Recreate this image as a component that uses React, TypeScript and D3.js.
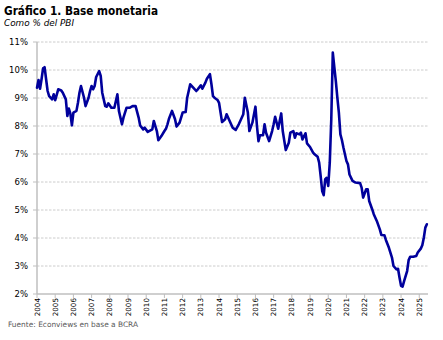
import React from "react";
import * as d3 from "d3";

// Month offsets from Jan-2004 and value (% of GDP)
const monthOffsets: number[] = [
  0, 1, 2, 3, 4, 5, 6, 7, 8, 10, 11, 12, 14, 16, 17, 19, 20, 21, 22, 23, 24, 26, 27, 28, 29, 31, 32, 34, 35, 36, 37, 38, 39, 41, 42, 43, 45, 46, 47, 49, 51, 53, 54, 56, 57, 59, 61, 63, 65, 67, 68,
  70, 71, 73, 76, 77, 79, 80, 82, 84, 85, 86, 87, 89, 91, 92, 94, 96, 98, 99, 101, 103, 105, 106, 108, 109, 111, 112, 114, 115, 116, 117, 119, 120, 122, 124, 125, 127, 129, 131, 133, 134,
  136, 137, 139, 140, 142, 144, 145, 146, 147, 149, 150, 151, 153, 155, 156, 157, 159, 160, 161, 162, 164, 166, 167, 169, 170, 171, 173, 174, 175, 177, 178, 180, 182, 183, 185, 186, 187, 188, 189, 190, 191, 192, 193, 194, 195,
  196, 197, 198, 199, 200, 201, 202, 204, 205, 206, 208, 210, 213, 214, 215, 217, 218, 219, 221, 222, 224, 226, 227, 229, 230, 232, 234, 235, 237, 238, 239, 240, 241, 242, 244, 245, 246, 248, 250, 251, 253, 254, 255, 256, 257,
];
const baseValues: number[] = [
  9.37, 9.64, 9.33, 9.67, 10.06, 10.1, 9.67, 9.25, 9.07, 8.95, 9.13, 8.92, 9.31, 9.27, 9.19, 8.95, 8.36, 8.62, 8.44, 8.02, 8.48, 8.54, 8.83, 9.19, 9.43, 9.01, 8.71, 9.01, 9.25, 9.43, 9.31, 9.43, 9.75, 9.96, 9.79, 9.19, 8.71, 8.69, 8.81, 8.65, 8.65, 9.13, 8.54, 8.06, 8.3, 8.65, 8.65, 8.71, 8.71, 8.3, 8.02,
  7.88, 7.94, 7.79, 7.88, 8.18, 7.82, 7.49, 7.64, 7.82, 7.9, 8.06, 8.26, 8.54, 8.24, 7.98, 8.12, 8.48, 8.5, 9.01, 9.49, 9.37, 9.25, 9.31, 9.45, 9.33, 9.55, 9.69, 9.85, 9.49, 9.07, 9.01, 8.93, 8.83, 8.14, 8.24, 8.42, 8.18, 7.94, 7.86, 8.06, 8.18,
  8.42, 9.01, 8.48, 7.82, 8.12, 8.69, 8.0, 7.46, 7.67, 7.67, 8.06, 7.76, 7.46, 7.82, 8.06, 8.33, 7.9, 8.18, 8.45, 7.82, 7.14, 7.4, 7.76, 7.82, 7.58, 7.74, 7.7, 7.76, 7.52, 7.74, 7.38, 7.25, 7.05, 6.99, 6.9, 6.69, 6.21, 5.68, 5.53, 6.1, 6.15, 5.86, 6.69, 8.24, 10.62,
  10.1, 9.6, 9.01, 8.48, 7.7, 7.5, 7.23, 6.75, 6.63, 6.27, 6.04, 5.98, 5.96, 5.8, 5.44, 5.74, 5.74, 5.32, 5.02, 4.85, 4.61, 4.31, 4.11, 4.1, 3.93, 3.65, 3.3, 3.0, 2.88, 2.9, 2.58, 2.29, 2.26, 2.46, 2.82, 3.21, 3.33, 3.33, 3.36, 3.48, 3.62, 3.74, 4.01, 4.37, 4.49,
];
const yearTicks: number[] = d3.range(2004, 2026);
const percentTicks: number[] = [2, 3, 4, 5, 6, 7, 8, 9, 10, 11];

const title = "Gráfico 1. Base monetaria";
const subtitle = "Como % del PBI";
const source = "Fuente: Econviews en base a BCRA";

export default function App() {
  const W = 443;
  const H = 340;
  const left = 37;
  const right = 428;
  const top = 42;
  const bottom = 294;

  const x = d3.scaleLinear().domain([2004, 2025.48]).range([left, right]);
  const y = d3.scaleLinear().domain([2, 11]).range([bottom, top]);

  const data = monthOffsets.map((m, i) => ({ t: 2004 + m / 12, v: baseValues[i] }));
  const line = d3
    .line<{ t: number; v: number }>()
    .x((d) => x(d.t))
    .y((d) => y(d.v))
    .curve(d3.curveLinear);

  const font = "Tahoma, 'DejaVu Sans', sans-serif";

  return (
    <svg
      width={W}
      height={H}
      style={{ position: "absolute", left: 0, top: 0, background: "#fff" }}
    >
      <rect width={W} height={H} fill="#fff" />
      <text
        x={4}
        y={15}
        fontFamily="'DejaVu Sans Condensed', 'DejaVu Sans', sans-serif"
        fontWeight="bold"
        fontSize={13}
        textLength={154}
        lengthAdjust="spacingAndGlyphs"
        fill="#000"
      >
        {title}
      </text>
      <text
        x={4}
        y={26}
        fontFamily="'DejaVu Sans', sans-serif"
        fontStyle="italic"
        fontSize={9}
        textLength={70}
        lengthAdjust="spacingAndGlyphs"
        fill="#000"
      >
        {subtitle}
      </text>

      {percentTicks.map((p) => (
        <g key={p}>
          {p > 2 && (
            <line
              x1={left}
              x2={right}
              y1={y(p)}
              y2={y(p)}
              stroke="#cccccc"
              strokeWidth={1}
              strokeDasharray="2.5,1.5"
            />
          )}
          <line x1={left - 4} x2={left} y1={y(p)} y2={y(p)} stroke="#bfbfbf" strokeWidth={1} />
          <text
            x={28}
            y={y(p) + 3}
            textAnchor="end"
            fontFamily={font}
            fontSize={8.5}
            fill="#000"
          >
            {p + "%"}
          </text>
        </g>
      ))}

      <line x1={left} x2={left} y1={top} y2={bottom} stroke="#bfbfbf" strokeWidth={1.5} />
      <line x1={left} x2={right} y1={bottom} y2={bottom} stroke="#bfbfbf" strokeWidth={1.5} />

      {yearTicks.map((yr) => (
        <g key={yr}>
          <line x1={x(yr)} x2={x(yr)} y1={bottom} y2={bottom + 4} stroke="#bfbfbf" strokeWidth={1} />
          <text
            transform={`translate(${x(yr) + 2.5},${bottom + 4}) rotate(-90)`}
            textAnchor="end"
            fontFamily={font}
            fontSize={7.2}
            fill="#000"
          >
            {String(yr)}
          </text>
        </g>
      ))}

      <path
        d={line(data) || ""}
        fill="none"
        stroke="#00009c"
        strokeWidth={2.6}
        strokeLinejoin="round"
        strokeLinecap="round"
      />

      <text
        x={8}
        y={327}
        fontFamily={font}
        fontSize={7.5}
        textLength={130}
        lengthAdjust="spacingAndGlyphs"
        fill="#595959"
      >
        {source}
      </text>
    </svg>
  );
}
